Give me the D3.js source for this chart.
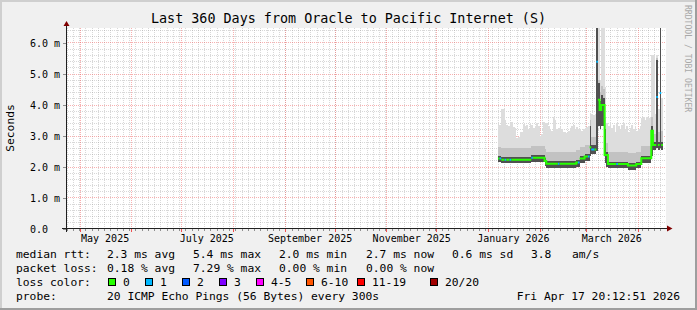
<!DOCTYPE html>
<html>
<head>
<meta charset="utf-8">
<script src="https://cdn.jsdelivr.net/npm/d3@7"></script>
<style>
  body { margin: 0; background: #f0f0f0; }
  svg { display: block; }
  text { font-family: "DejaVu Sans Mono", monospace; fill: #000; }
</style>
</head>
<body>
<div class="plot"></div>
<script>
// ---- data ----
const graphStart = new Date(2025, 3, 22, 20, 12, 51);
const graphEnd = new Date(2026, 3, 17, 20, 12, 51);
const firstSample = new Date(2026, 0, 7);   // one sample per day from here

// median rtt in ms per day
const medianMs = [
  2.26,2.26,2.22,2.22,2.22,2.22,2.22,2.22,2.22,2.22,
  2.22,2.22,2.22,2.22,2.22,2.22,2.22,2.22,2.22,2.22,
  2.28,2.28,2.28,2.28,2.28,2.28,2.28,2.28,2.18,2.09,
  2.09,2.09,2.09,2.09,2.09,2.09,2.09,2.09,2.09,2.09,
  2.09,2.09,2.09,2.09,2.09,2.09,2.09,2.13,2.13,2.26,
  2.26,2.26,2.32,2.32,2.32,2.62,2.55,2.55,2.55,5.38,
  4.15,3.82,3.98,3.98,2.37,2.37,2.08,2.08,2.08,2.08,
  2.08,2.08,2.08,2.08,2.08,2.08,2.08,2.08,2.03,2.03,
  2.03,2.03,2.03,2.08,2.08,2.08,2.27,2.27,2.27,2.27,
  2.27,2.27,3.15,2.69,2.69,4.24,2.69,4.37,2.69
];
// lost pings (of 20) per day
const lossCount = [
  0,1,0,0,1,0,0,1,0,0,
  0,0,0,0,0,0,0,0,0,0,
  1,0,0,0,0,0,0,0,0,0,
  0,0,0,0,0,0,1,0,0,0,
  0,0,0,0,0,0,0,0,1,0,
  0,0,0,0,1,0,1,1,0,1,
  0,0,0,0,0,0,0,0,0,0,
  0,1,0,0,0,0,0,0,0,0,
  0,0,0,0,0,0,0,0,0,0,
  0,0,0,0,0,1,0,1,0
];
// smoke: lowest ping, top of dark band, top of mid band, highest ping (ms)
const minMs = [
  2.13,2.13,2.10,2.10,2.10,2.10,2.10,2.10,2.10,2.10,
  2.10,2.10,2.10,2.10,2.10,2.10,2.10,2.10,2.10,2.10,
  2.15,2.15,2.15,2.15,2.15,2.15,2.15,2.15,2.03,1.96,
  1.96,1.96,1.96,1.96,1.96,1.96,1.96,1.96,1.96,1.96,
  1.96,1.96,1.96,1.96,1.96,1.96,1.96,2.00,2.00,2.12,
  2.12,2.12,2.17,2.17,2.17,2.35,2.40,2.40,2.40,2.50,
  3.30,3.20,3.30,3.30,2.10,2.00,1.94,1.94,1.94,1.94,
  1.94,1.94,1.94,1.94,1.94,1.94,1.94,1.94,1.90,1.90,
  1.90,1.90,1.90,1.94,1.94,1.94,2.12,2.12,2.12,2.12,
  2.12,2.12,2.35,2.52,2.52,2.60,2.52,2.60,2.52
];
const darkMs = [
  2.34,2.34,2.30,2.30,2.30,2.30,2.30,2.30,2.30,2.30,
  2.30,2.30,2.30,2.30,2.30,2.30,2.30,2.30,2.30,2.30,
  2.36,2.36,2.36,2.36,2.36,2.36,2.36,2.36,2.28,2.17,
  2.17,2.17,2.17,2.17,2.17,2.17,2.17,2.17,2.17,2.17,
  2.17,2.17,2.17,2.17,2.17,2.17,2.17,2.21,2.21,2.34,
  2.34,2.34,2.40,2.40,2.40,3.30,2.68,2.68,2.68,6.80,
  4.70,4.10,4.30,4.20,3.20,2.48,2.16,2.16,2.16,2.16,
  2.16,2.16,2.16,2.16,2.16,2.16,2.16,2.16,2.11,2.11,
  2.11,2.11,2.11,2.16,2.16,2.16,2.35,2.35,2.35,2.35,
  2.35,2.35,3.30,2.80,2.80,5.43,2.80,6.80,2.80
];
const highMs = [
  2.62,2.62,2.60,2.60,2.60,2.60,2.60,2.60,2.60,2.60,
  2.60,2.60,2.60,2.60,2.60,2.60,2.60,2.60,2.60,2.60,
  2.65,2.65,2.65,2.65,2.65,2.65,2.65,2.65,2.58,2.48,
  2.48,2.48,2.48,2.48,2.48,2.48,2.48,2.48,2.48,2.48,
  2.48,2.48,2.48,2.48,2.48,2.48,2.48,2.52,2.52,2.64,
  2.64,2.64,2.70,2.70,2.70,3.50,2.95,2.95,2.95,6.80,
  4.80,4.40,4.60,4.50,3.60,2.75,2.47,2.47,2.47,2.47,
  2.47,2.47,2.47,2.47,2.47,2.47,2.47,2.47,2.43,2.43,
  2.43,2.43,2.43,2.47,2.47,2.47,2.66,2.66,2.66,2.66,
  2.66,2.66,3.60,3.05,3.05,5.50,3.10,6.80,3.15
];
const maxMs = [
  3.34,3.34,3.85,3.85,3.50,3.34,3.30,3.40,3.45,3.28,
  3.25,2.92,2.95,3.12,3.10,3.38,3.30,3.34,3.20,3.40,
  3.35,3.23,3.30,3.40,3.30,3.00,3.05,3.45,3.40,3.40,
  3.30,3.20,3.15,3.60,3.50,3.20,3.25,3.28,3.20,3.12,
  3.10,3.07,3.15,3.23,3.30,3.34,3.20,3.28,3.20,3.20,
  3.15,3.20,3.25,3.28,3.30,3.72,3.70,3.65,3.70,6.80,
  6.80,4.80,6.80,6.80,4.57,3.40,3.30,3.40,3.25,3.35,
  3.10,3.40,3.30,3.20,3.35,3.40,3.20,3.30,3.10,3.25,
  3.35,3.20,3.30,3.15,3.20,3.30,3.55,3.60,3.50,3.60,
  3.55,3.60,5.60,5.60,3.70,5.60,3.85,6.80,4.20
];

// axis labels
const xLabelMonths = [[2025, 4], [2025, 6], [2025, 8], [2025, 10], [2026, 0], [2026, 2]];
const xLabels = ["May 2025", "July 2025", "September 2025", "November 2025", "January 2026", "March 2026"];
const yTickValues = [0, 1, 2, 3, 4, 5, 6];

// legend
const lossLevels = ["0", "1", "2", "3", "4-5", "6-10", "11-19", "20/20"];
const lossColors = ["#26ff00", "#00b8ff", "#0059ff", "#7e00ff", "#ff00ff", "#ff5500", "#ff0000", "#a10000"];
const rttLegend = ["median rtt:", "2.3 ms avg", "5.4 ms max", "2.0 ms min", "2.7 ms now", "0.6 ms sd", "3.8", "am/s"];
const lossLegend = ["packet loss:", "0.18 % avg", "7.29 % max", "0.00 % min", "0.00 % now"];
const probeLegend = ["probe:", "20 ICMP Echo Pings (56 Bytes) every 300s"];
const stamp = "Fri Apr 17 20:12:51 2026";
const title = "Last 360 Days from Oracle to Pacific Internet (S)";

// ---- layout ----
const W = 697, H = 310;
const plotLeft = 66, plotRight = 666, plotTop = 28, zeroY = 228.5;

const svg = d3.select(".plot")
  .append("svg")
    .attr("width", W)
    .attr("height", H);

// background + 3d frame
svg.append("rect").attr("width", W).attr("height", H).attr("fill", "#f0f0f0");
svg.append("path").attr("d", `M0,0H${W}V2H2V${H}H0Z`).attr("fill", "#cfcfcf");
svg.append("path").attr("d", `M${W},${H}H0V${H - 2}H${W - 2}V0H${W}Z`).attr("fill", "#9e9e9e");

// canvas
svg.append("rect")
  .attr("x", plotLeft).attr("y", plotTop)
  .attr("width", plotRight - plotLeft).attr("height", zeroY - plotTop)
  .attr("fill", "#fff");

const x = d3.scaleTime().domain([graphStart, graphEnd]).range([plotLeft, plotRight]);
const y = d3.scaleLinear().domain([0, 200 / 31]).range([zeroY, zeroY - 200]);

const px = v => Math.round(v) + 0.5;

// grid
const grid = svg.append("g").attr("shape-rendering", "crispEdges");
const minorY = d3.range(1, 33).map(k => k * 0.2).filter(v => Math.abs(v - Math.round(v)) > 0.01);
grid.selectAll(".ymin").data(minorY).enter().append("line")
  .attr("x1", plotLeft).attr("x2", plotRight)
  .attr("y1", d => px(y(d))).attr("y2", d => px(y(d)))
  .attr("stroke", "#8f8f8f").attr("stroke-opacity", 0.35).attr("stroke-dasharray", "1,1");

// minor time grid every 90 h
const step = 90 * 3600e3;
let anchor = new Date(2025, 3, 27).getTime();
while (anchor - step > graphStart.getTime()) anchor -= step;
const minorX = d3.range(anchor, graphEnd.getTime(), step).map(t => new Date(t));
grid.selectAll(".xmin").data(minorX).enter().append("line")
  .attr("y1", plotTop).attr("y2", zeroY)
  .attr("x1", d => px(x(d))).attr("x2", d => px(x(d)))
  .attr("stroke", "#8f8f8f").attr("stroke-opacity", 0.35).attr("stroke-dasharray", "1,1");

const monthStarts = d3.timeMonth.range(graphStart, graphEnd);
grid.selectAll(".xmaj").data(monthStarts).enter().append("line")
  .attr("y1", plotTop).attr("y2", zeroY)
  .attr("x1", d => px(x(d))).attr("x2", d => px(x(d)))
  .attr("stroke", "#f05050").attr("stroke-opacity", 0.45).attr("stroke-dasharray", "1,1");
grid.selectAll(".ymaj").data(yTickValues.slice(1)).enter().append("line")
  .attr("x1", plotLeft).attr("x2", plotRight)
  .attr("y1", d => px(y(d))).attr("y2", d => px(y(d)))
  .attr("stroke", "#f05050").attr("stroke-opacity", 0.45).attr("stroke-dasharray", "1,1");

// ---- smoke + median ----
const samples = medianMs.map((m, i) => ({
  t: d3.timeDay.offset(firstSample, i),
  med: m, loss: lossCount[i],
  lo: minMs[i], dark: darkMs[i], high: highMs[i], hi: maxMs[i]
}));
const last = samples[samples.length - 1];
const smokeData = samples.concat([Object.assign({}, last, {t: d3.timeDay.offset(last.t, 1)})]);

svg.append("clipPath").attr("id", "clip")
  .append("rect").attr("x", plotLeft).attr("y", plotTop)
  .attr("width", plotRight - plotLeft).attr("height", zeroY - plotTop);

const plot = svg.append("g").attr("clip-path", "url(#clip)");

const band = (key, color) => plot.append("path")
  .datum(smokeData)
  .attr("fill", color)
  .attr("shape-rendering", "crispEdges")
  .attr("d", d3.area().curve(d3.curveStepAfter)
    .x(d => x(d.t)).y0(d => y(d.lo)).y1(d => y(d[key])));

band("hi", "#dddddd");
band("high", "#c2c2c2");
band("dark", "#505050");

const lossIndex = n => n === 0 ? 0 : n === 1 ? 1 : n === 2 ? 2 : n === 3 ? 3 : n <= 5 ? 4 : n <= 10 ? 5 : n <= 19 ? 6 : 7;

const runs = [];
samples.forEach(d => {
  const c = lossIndex(d.loss);
  if (!runs.length || runs[runs.length - 1].c !== c) runs.push({c: c, pts: []});
  runs[runs.length - 1].pts.push(d);
});
const medLine = d3.line().curve(d3.curveStepAfter).x(d => x(d.t)).y(d => y(d.med));
runs.forEach(r => {
  const end = r.pts[r.pts.length - 1];
  plot.append("path")
    .datum(r.pts.concat([{t: d3.timeDay.offset(end.t, 1), med: end.med}]))
    .attr("fill", "none")
    .attr("stroke", lossColors[r.c])
    .attr("stroke-width", 2)
    .attr("d", medLine);
});

// ---- axes ----
const xMid = xLabelMonths.map(m => d3.timeDay.offset(new Date(m[0], m[1], 1), 15));
const xAxis = d3.axisBottom(x)
  .tickValues(xMid)
  .tickSize(0)
  .tickPadding(6)
  .tickFormat((d, i) => xLabels[i]);
const gx = svg.append("g").attr("transform", `translate(0,${zeroY})`).call(xAxis);
gx.select(".domain").remove();
gx.selectAll("text").style("font-size", "10px").style("font-family", "DejaVu Sans Mono");

// tick marks under the x axis
svg.append("g").selectAll("line").data(minorX).enter().append("line")
  .attr("x1", d => px(x(d))).attr("x2", d => px(x(d)))
  .attr("y1", zeroY).attr("y2", zeroY + 2)
  .attr("stroke", "#8f8f8f").attr("shape-rendering", "crispEdges");
svg.append("g").selectAll("line").data(monthStarts).enter().append("line")
  .attr("x1", d => px(x(d))).attr("x2", d => px(x(d)))
  .attr("y1", zeroY).attr("y2", zeroY + 3)
  .attr("stroke", "#f05050").attr("shape-rendering", "crispEdges");

const yAxis = d3.axisLeft(y)
  .tickValues(yTickValues)
  .tickSize(4)
  .tickPadding(2.5)
  .tickFormat(d => d === 0 ? "0.0" : d.toFixed(1) + " m");
const gy = svg.append("g").attr("transform", `translate(${plotLeft + 0.5},0)`).call(yAxis);
gy.select(".domain").remove();
gy.selectAll("line").attr("stroke", "#8f8f8f").attr("shape-rendering", "crispEdges");
gy.selectAll("text")
  .style("font-size", "10px").style("font-family", "DejaVu Sans Mono")
  .attr("dy", "0.36em")
  .attr("x", d => d === 0 ? -18.5 : -6.5);

// axis lines with arrows
svg.append("line").attr("x1", 62).attr("x2", 668).attr("y1", zeroY).attr("y2", zeroY)
  .attr("stroke", "#202020").attr("shape-rendering", "crispEdges");
svg.append("line").attr("x1", plotLeft + 0.5).attr("x2", plotLeft + 0.5).attr("y1", 232).attr("y2", 25)
  .attr("stroke", "#202020").attr("shape-rendering", "crispEdges");
svg.append("path").attr("d", `M667,${zeroY - 3}L672.5,${zeroY}L667,${zeroY + 3}Z`).attr("fill", "#800000");
svg.append("path").attr("d", `M${plotLeft - 2.5},26L${plotLeft + 0.5},21L${plotLeft + 3.5},26Z`).attr("fill", "#800000");

// ---- titles ----
svg.append("text")
  .attr("x", W / 2).attr("y", 23)
  .attr("text-anchor", "middle")
  .style("font-size", "13.4px")
  .text(title);

svg.append("text")
  .attr("transform", "translate(14,128) rotate(-90)")
  .attr("text-anchor", "middle")
  .style("font-size", "11.3px")
  .text("Seconds");

svg.append("text")
  .attr("transform", "translate(685,5) rotate(90)")
  .style("font-size", "8.1px")
  .style("fill", "#a8a8a8")
  .text("RRDTOOL / TOBI OETIKER");

// ---- legend ----
const legend = svg.append("g").style("font-size", "11.3px");
const rttX = [16, 107, 193, 279, 366, 452, 531, 572];
rttLegend.forEach((s, i) => legend.append("text").attr("x", rttX[i]).attr("y", 258).text(s));
const lossX = [16, 107, 193, 279, 366];
lossLegend.forEach((s, i) => legend.append("text").attr("x", lossX[i]).attr("y", 272).text(s));

legend.append("text").attr("x", 16).attr("y", 286).text("loss color:");
const swatchX = [108.5, 145.5, 182.5, 219.5, 256.5, 306.5, 357.5, 430.5];
lossLevels.forEach((s, i) => {
  legend.append("rect")
    .attr("x", swatchX[i]).attr("y", 278.5)
    .attr("width", 7).attr("height", 7)
    .attr("fill", lossColors[i]).attr("stroke", "#000").attr("stroke-width", 1)
    .attr("shape-rendering", "crispEdges");
  legend.append("text").attr("x", swatchX[i] + 14.5).attr("y", 286).text(s);
});

legend.append("text").attr("x", 16).attr("y", 300).text(probeLegend[0]);
legend.append("text").attr("x", 107).attr("y", 300).text(probeLegend[1]);
legend.append("text").attr("x", 680).attr("y", 300).attr("text-anchor", "end").text(stamp);
</script>
</body>
</html>
